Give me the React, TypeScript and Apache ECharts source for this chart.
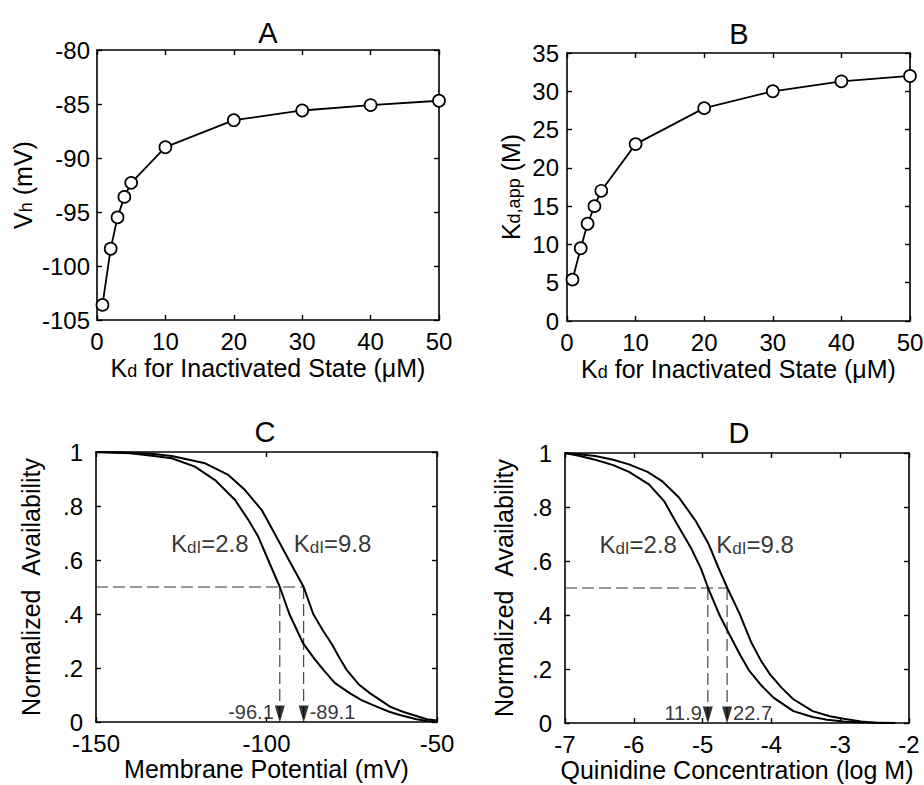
import React, { useEffect, useRef } from "react";
import * as echarts from "echarts";

// ---------- data ----------
const kdInact = [0.8, 2, 3, 4, 5, 10, 20, 30, 40, 50];
const vhValues = [-103.6, -98.4, -95.5, -93.6, -92.3, -89.0, -86.5, -85.6, -85.1, -84.7];
const kdAppValues = [5.4, 9.5, 12.7, 15.0, 17.0, 23.1, 27.8, 30.0, 31.3, 32.0];

// Panel C: availability vs membrane potential
const cLowX = [-150, -140, -133, -127.8, -121, -115.1, -109.2, -105.3, -102.4, -99.5, -96.1, -93.3, -89.2, -86, -83.3, -80, -75.5, -72, -67.7, -64, -60.9, -56, -53, -50];
const cLowY = [1.0, 0.995, 0.985, 0.977, 0.946, 0.896, 0.822, 0.748, 0.686, 0.6, 0.5, 0.4, 0.29, 0.235, 0.193, 0.145, 0.106, 0.08, 0.057, 0.038, 0.026, 0.01, 0.004, 0.002];
const cHighX = [-150, -140, -133, -127.8, -118, -111.2, -106.3, -101.4, -99.5, -96, -93, -89.1, -86.3, -83.5, -80.9, -78.5, -76.5, -73, -69.6, -66.5, -63.8, -60, -57, -53, -50];
const cHighY = [1.0, 0.997, 0.993, 0.985, 0.958, 0.915, 0.859, 0.785, 0.742, 0.66, 0.59, 0.5, 0.4, 0.34, 0.29, 0.235, 0.193, 0.14, 0.106, 0.08, 0.057, 0.038, 0.026, 0.01, 0.006];
const cHalf = [-96.1, -89.1];
const cHalfLabels = ["-96.1", "-89.1"];

// Panel D: availability vs log concentration
const dLowX = [-7, -6.8, -6.56, -6.3, -6.07, -5.78, -5.56, -5.37, -5.17, -5.02, -4.92, -4.76, -4.61, -4.45, -4.32, -4.15, -3.97, -3.68, -3.4, -3.19, -2.95, -2.6, -2.2];
const dLowY = [1.0, 0.99, 0.975, 0.955, 0.93, 0.884, 0.822, 0.736, 0.649, 0.57, 0.5, 0.403, 0.328, 0.25, 0.193, 0.14, 0.094, 0.044, 0.022, 0.012, 0.006, 0.002, 0];
const dHighX = [-7, -6.8, -6.56, -6.3, -6.07, -5.8, -5.59, -5.34, -5.1, -4.91, -4.77, -4.64, -4.46, -4.29, -4.15, -4.02, -3.85, -3.68, -3.4, -3.15, -2.95, -2.7, -2.48, -2.2];
const dHighY = [1.0, 0.995, 0.989, 0.975, 0.958, 0.93, 0.896, 0.834, 0.748, 0.662, 0.575, 0.5, 0.403, 0.297, 0.23, 0.18, 0.13, 0.088, 0.044, 0.025, 0.016, 0.006, 0.001, 0];
const dHalf = [-4.924, -4.644];
const dHalfLabels = ["11.9", "22.7"];

const FONT = "'Liberation Sans', Arial, Helvetica, sans-serif";
const BLACK = "#000";

const zip = (xs: number[], ys: number[]) => xs.map((x, i) => [x, ys[i]]);

const richBase = {
  k: { fontSize: 25, fontFamily: FONT, color: BLACK, verticalAlign: "bottom", lineHeight: 28 },
  s: { fontSize: 18, fontFamily: FONT, color: BLACK, verticalAlign: "bottom", lineHeight: 26 },
};

function axisPair(
  kind: "x" | "y",
  grid: number,
  min: number,
  max: number,
  interval: number,
  name: string,
  nameGap: number,
  labelMargin: number,
  formatter?: (v: number) => string
) {
  const line = { show: true, onZero: false, lineStyle: { color: BLACK, width: 1.6 } };
  const tick = { show: true, inside: true, length: 5, lineStyle: { color: BLACK, width: 1.4 } };
  const main: any = {
    type: "value",
    gridIndex: grid,
    position: kind === "x" ? "bottom" : "left",
    min,
    max,
    interval,
    axisLine: line,
    axisTick: tick,
    splitLine: { show: false },
    axisLabel: {
      color: BLACK,
      fontSize: 24,
      fontFamily: FONT,
      margin: labelMargin,
      formatter: formatter || ((v: number) => String(v)),
    },
    name,
    nameLocation: "middle",
    nameGap,
    nameMoveOverlap: false,
    nameTextStyle: { color: BLACK, fontSize: 25, fontFamily: FONT, rich: richBase },
  };
  const mirror: any = {
    type: "value",
    gridIndex: grid,
    position: kind === "x" ? "top" : "right",
    min,
    max,
    interval,
    axisLine: line,
    axisTick: tick,
    splitLine: { show: false },
    axisLabel: { show: false },
  };
  return [main, mirror];
}

const availFmt = (v: number) => {
  const r = Math.round(v * 10) / 10;
  if (r === 0) return "0";
  if (r === 1) return "1";
  return "." + Math.round(r * 10);
};

function App() {
  const ref = useRef<HTMLDivElement>(null);
  useEffect(() => {
    if (!ref.current) return;
    const chart = echarts.init(ref.current, undefined, { renderer: "svg" });

    const grids = [
      { left: 97, top: 50, width: 342, height: 270 },
      { left: 567, top: 53, width: 343, height: 268 },
      { left: 96, top: 452, width: 341, height: 270 },
      { left: 565, top: 453, width: 344, height: 270 },
    ].map((g) => ({ ...g, containLabel: false, outerBoundsMode: "none" }));

    const xAxes = [
      ...axisPair("x", 0, 0, 50, 10, "{k|K}{s|d}{k| for Inactivated State (μM)}", 32, 9),
      ...axisPair("x", 1, 0, 50, 10, "{k|K}{s|d}{k| for Inactivated State (μM)}", 32, 9),
      ...axisPair("x", 2, -150, -50, 50, "{k|Membrane Potential (mV)}", 31, 9),
      ...axisPair("x", 3, -7, -2, 1, "{k|Quinidine Concentration (log M)}", 31, 9),
    ];
    const yAxes = [
      ...axisPair("y", 0, -105, -80, 5, "{k|V}{s|h}{k| (mV)}", 62, 7),
      ...axisPair("y", 1, 0, 35, 5, "{k|K}{s|d,app}{k| (M)}", 44, 8),
      ...axisPair("y", 2, 0, 1, 0.2, "{k|Normalized\u00a0\u00a0Availability}", 53, 13, availFmt),
      ...axisPair("y", 3, 0, 1, 0.2, "{k|Normalized\u00a0\u00a0Availability}", 49, 13, availFmt),
    ];

    const curve = (gi: number, xs: number[], ys: number[]) => ({
      type: "line",
      xAxisIndex: gi * 2,
      yAxisIndex: gi * 2,
      data: zip(xs, ys),
      symbol: "none",
      lineStyle: { color: BLACK, width: 2 },
      silent: true,
      z: 3,
    });
    const markerLine = (gi: number, ys: number[]) => ({
      type: "line",
      xAxisIndex: gi * 2,
      yAxisIndex: gi * 2,
      data: zip(kdInact, ys),
      symbol: "circle",
      symbolSize: 12,
      itemStyle: { color: "#fff", borderColor: BLACK, borderWidth: 1.7 },
      lineStyle: { color: BLACK, width: 1.8 },
      silent: true,
    });
    const dashed = (gi: number, pts: number[][]) => ({
      type: "line",
      xAxisIndex: gi * 2,
      yAxisIndex: gi * 2,
      data: pts,
      symbol: "none",
      lineStyle: { color: "#333", width: 1.1, type: [12, 5] },
      silent: true,
      z: 2,
    });
    const halfSeries = (gi: number, xmin: number, half: number[], labels: string[]) => [
      dashed(gi, [[xmin, 0.5], [half[1], 0.5]]),
      dashed(gi, [[half[0], 0.5], [half[0], 0]]),
      dashed(gi, [[half[1], 0.5], [half[1], 0]]),
      {
        type: "scatter",
        xAxisIndex: gi * 2,
        yAxisIndex: gi * 2,
        symbol: "triangle",
        symbolRotate: 180,
        symbolSize: [10, 17],
        symbolOffset: [0, -8],
        itemStyle: { color: BLACK },
        silent: true,
        clip: false,
        z: 4,
        data: half.map((v, j) => ({
          value: [v, 0],
          label: {
            show: true,
            position: j === 0 ? "left" : "right",
            distance: 1,
            formatter: labels[j],
            color: BLACK,
            fontSize: 20,
            fontFamily: FONT,
            offset: [0, -2],
          },
        })),
      },
    ];
    const kdlRich = {
      k: { fontSize: 24, fontFamily: FONT, color: BLACK, verticalAlign: "bottom", lineHeight: 28 },
      s: { fontSize: 17, fontFamily: FONT, color: BLACK, verticalAlign: "bottom", lineHeight: 26 },
    };
    const kdlLabels = (gi: number, pos: number[][], vals: string[]) => ({
      type: "scatter",
      xAxisIndex: gi * 2,
      yAxisIndex: gi * 2,
      symbolSize: 0,
      silent: true,
      data: pos.map((p, j) => ({
        value: p,
        label: {
          show: true,
          position: "right",
          distance: 0,
          formatter: `{k|K}{s|dI}{k|=${vals[j]}}`,
          rich: kdlRich,
        },
      })),
    });

    const titles = [
      ["A", 268, 33],
      ["B", 739, 34],
      ["C", 265, 432],
      ["D", 739, 433],
    ].map(([t, x, y]) => ({
      type: "text",
      x: x as number,
      y: y as number,
      style: {
        text: t as string,
        fill: BLACK,
        font: `29px ${FONT}`,
        textAlign: "center",
        textVerticalAlign: "middle",
      },
    }));

    chart.setOption({
      animation: false,
      backgroundColor: "#fff",
      grid: grids,
      xAxis: xAxes,
      yAxis: yAxes,
      graphic: titles,
      series: [
        markerLine(0, vhValues),
        markerLine(1, kdAppValues),
        curve(2, cLowX, cLowY),
        curve(2, cHighX, cHighY),
        curve(3, dLowX, dLowY),
        curve(3, dHighX, dHighY),
        ...halfSeries(2, -150, cHalf, cHalfLabels),
        ...halfSeries(3, -7, dHalf, dHalfLabels),
        kdlLabels(2, [[-128, 0.668], [-92, 0.668]], ["2.8", "9.8"]),
        kdlLabels(3, [[-6.5, 0.667], [-4.8, 0.667]], ["2.8", "9.8"]),
      ],
    });
    return () => chart.dispose();
  }, []);
  return (
    <div
      ref={ref}
      style={{ position: "absolute", left: 0, top: 0, width: 924, height: 785, background: "#fff" }}
    />
  );
}

export default App;
